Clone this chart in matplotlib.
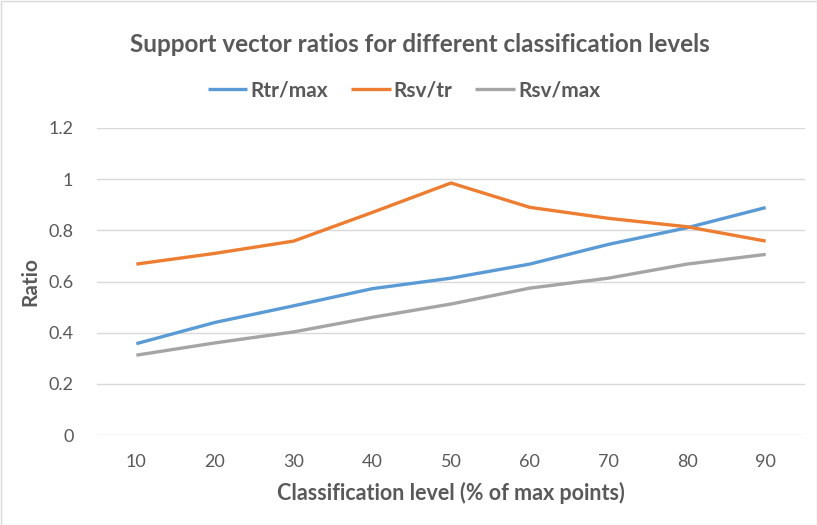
import matplotlib
matplotlib.use("Agg")
import matplotlib.pyplot as plt
from matplotlib.patches import Rectangle

levels = ["10", "20", "30", "40", "50", "60", "70", "80", "90"]
rtr_max = [0.357, 0.44, 0.505, 0.572, 0.613, 0.668, 0.745, 0.81, 0.889]
rsv_tr = [0.668, 0.71, 0.758, 0.87, 0.985, 0.89, 0.847, 0.814, 0.758]
rsv_max = [0.312, 0.36, 0.403, 0.46, 0.512, 0.574, 0.613, 0.668, 0.706]
yticks = [0, 0.2, 0.4, 0.6, 0.8, 1, 1.2]
ytick_labels = ["0", "0.2", "0.4", "0.6", "0.8", "1", "1.2"]

plt.rcParams['font.family'] = ['Lato', 'DejaVu Sans']
txt = '#595959'

fig = plt.figure(figsize=(8.17, 5.25), dpi=100)
W, H = 817, 525
ax = fig.add_axes([97 / W, (H - 435) / H, (805 - 97) / W, (435 - 128) / H])

x = list(range(len(levels)))
l1, = ax.plot(x, rtr_max, color='#5B9BD5', lw=2.4, label='Rtr/max', solid_capstyle='butt')
l2, = ax.plot(x, rsv_tr, color='#ED7D31', lw=2.4, label='Rsv/tr', solid_capstyle='butt')
l3, = ax.plot(x, rsv_max, color='#A5A5A5', lw=2.4, label='Rsv/max', solid_capstyle='butt')

ax.set_xlim(-0.5, len(levels) - 0.5)
ax.set_ylim(0, 1.2)
ax.set_xticks(x)
ax.set_xticklabels(levels)
ax.set_yticks(yticks)
ax.set_yticklabels(ytick_labels)
ax.grid(axis='y', color='#d9d9d9', lw=1)
ax.set_axisbelow(True)
for s in ax.spines.values():
    s.set_visible(False)
ax.tick_params(axis='both', length=0, labelsize=13, labelcolor=txt)
ax.tick_params(axis='y', pad=17)
ax.tick_params(axis='x', pad=14)

ax.set_ylabel('Ratio', fontsize=15, fontweight='bold', color=txt, labelpad=6)
ax.set_xlabel('Classification level (% of max points)', fontsize=15.5, fontweight='bold', color=txt, labelpad=8)

fig.text(420 / W, 1 - 44 / H, 'Support vector ratios for different classification levels',
         ha='center', va='center', fontsize=17.5, fontweight='bold', color=txt)

leg = fig.legend(handles=[l1, l2, l3], loc='center', bbox_to_anchor=(404 / W, 1 - 90 / H),
                 ncol=3, frameon=False, handlelength=1.9, handletextpad=0.15, columnspacing=1.1,
                 prop={'size': 15, 'weight': 'bold'})
for t in leg.get_texts():
    t.set_color(txt)

fig.patches.append(Rectangle((0.5 / W, 0.5 / H), 1 - 1 / W, 1 - 1 / H, transform=fig.transFigure,
                             fill=False, edgecolor='#d9d9d9', lw=1))

fig.savefig('out.png', dpi=100)
